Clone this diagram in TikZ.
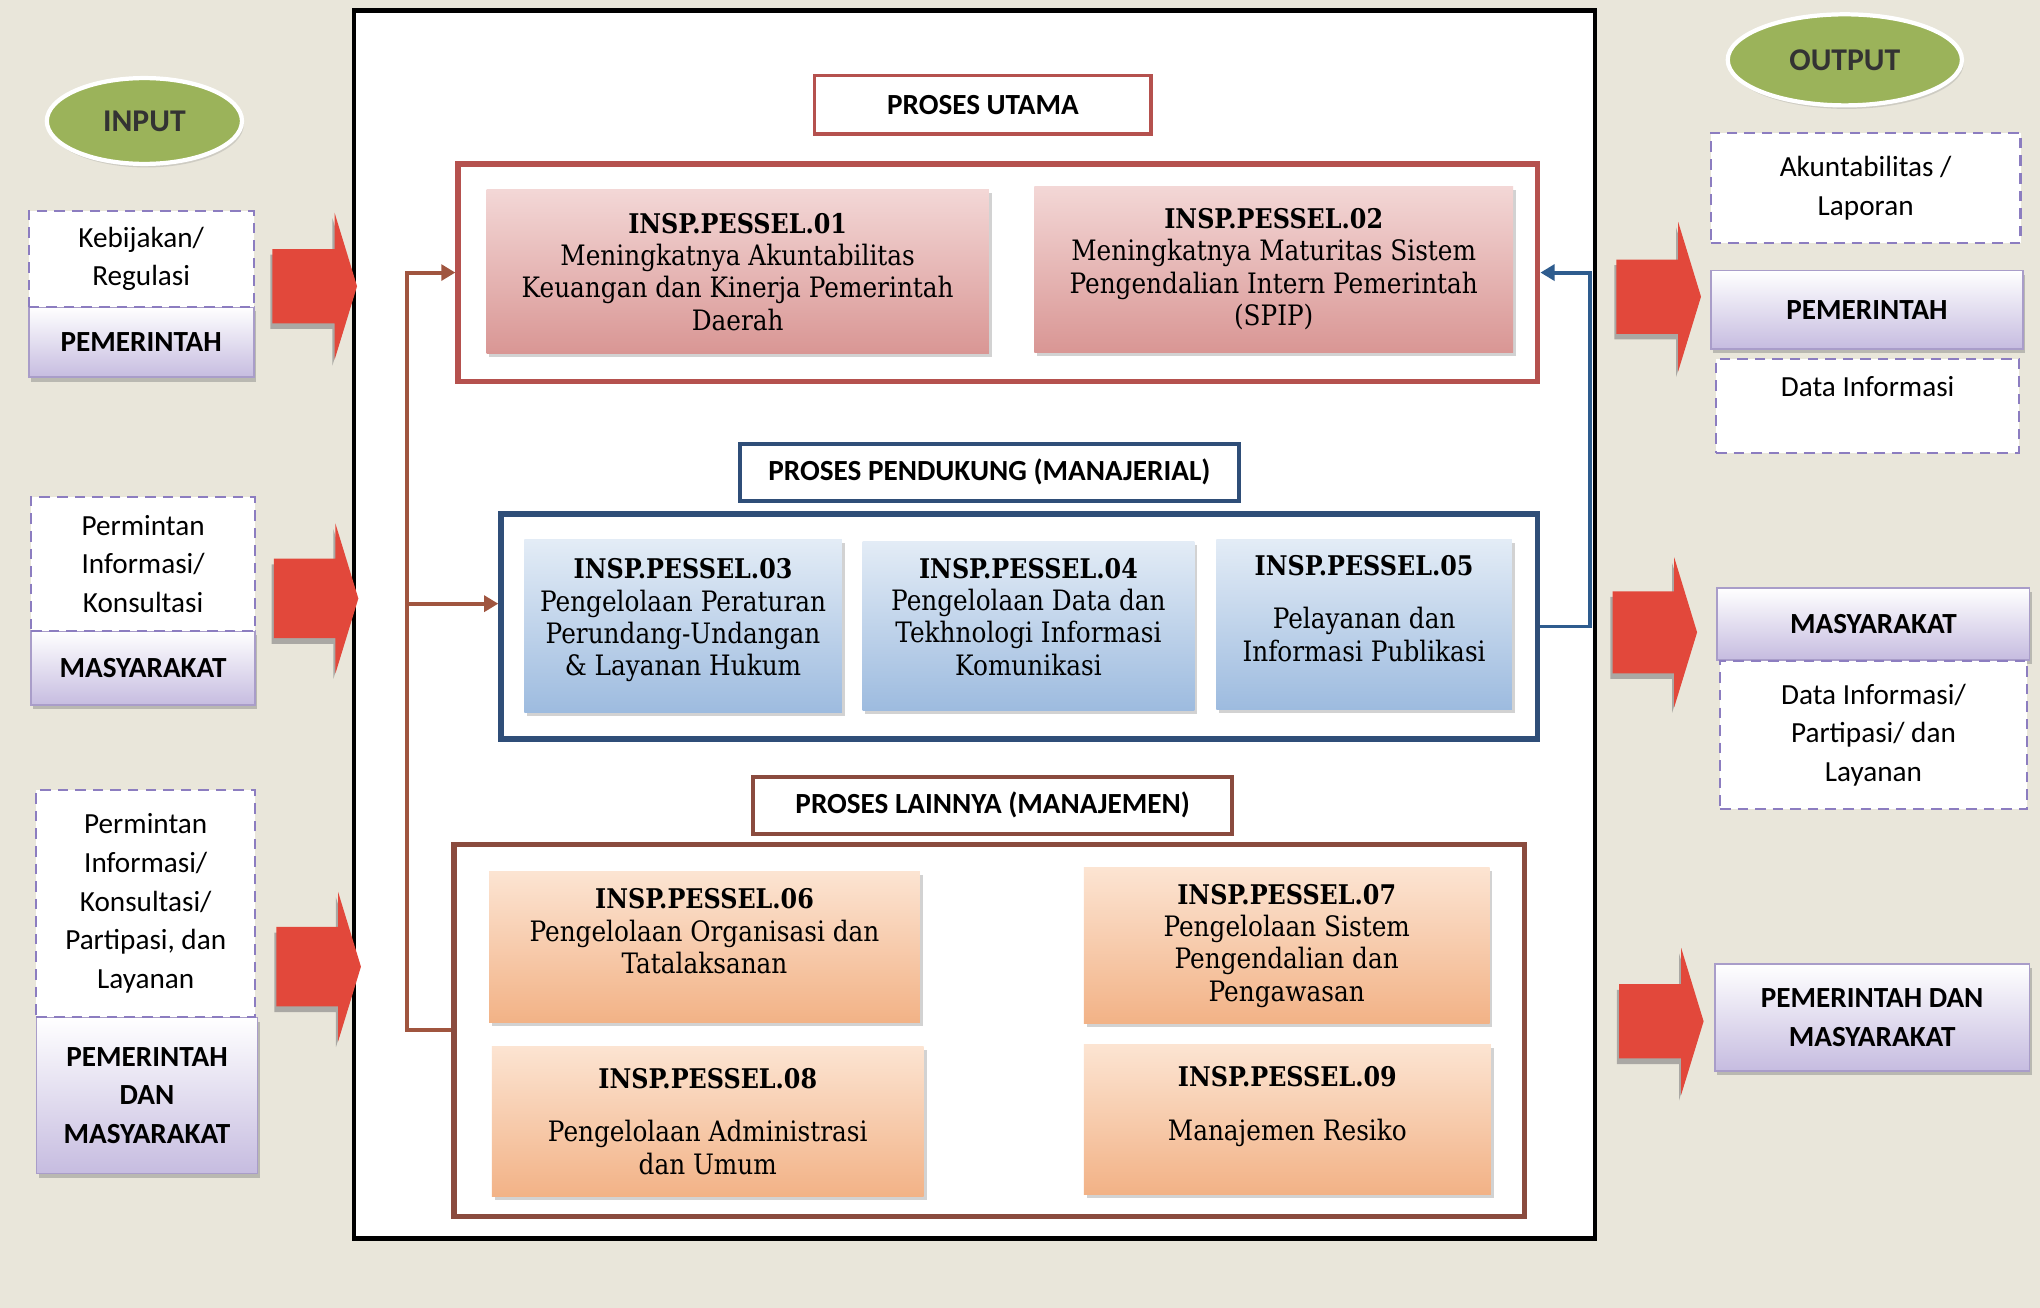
\documentclass[tikz,border=0pt]{standalone}
\usepackage{fontspec}
\setsansfont{Carlito}
\newfontfamily\procfont{DejaVu Serif}[FakeStretch=0.88]
\usetikzlibrary{shapes.geometric,shapes.arrows,shadows,arrows.meta}

\newcommand{\pxu}{0.013cm}
\newcommand{\pcode}[1]{{\bfseries\fontsize{7.7}{9.3}\selectfont #1}}

\definecolor{bgBeige}{HTML}{E9E6DA}
\definecolor{ellGreen}{HTML}{9BB35A}
\definecolor{arrRed}{HTML}{E2483B}
\definecolor{dashPurple}{HTML}{8C7DC0}
\definecolor{labLav}{HTML}{C6BCE0}
\definecolor{lavLine}{HTML}{A99DC9}
\definecolor{redBorder}{HTML}{B5514E}
\definecolor{pinkTop}{HTML}{F3D7D6}
\definecolor{pinkBot}{HTML}{D99694}
\definecolor{blueBorder}{HTML}{2F4E78}
\definecolor{blueTop}{HTML}{E3ECF6}
\definecolor{blueBot}{HTML}{9DBBDF}
\definecolor{brownBorder}{HTML}{8A4B3E}
\definecolor{orTop}{HTML}{FCE4D2}
\definecolor{orBot}{HTML}{F2B286}
\definecolor{busBrown}{HTML}{A0553F}
\definecolor{busBlue}{HTML}{2E5C8E}

\tikzset{
  ioEll/.style={ellipse, fill=ellGreen, draw=white, line width=1.2pt, inner sep=0pt,
    font=\sffamily\bfseries\fontsize{9}{10}\selectfont, text=black!80,
    drop shadow={opacity=0.25, shadow xshift=0.5pt, shadow yshift=-1pt}},
  inBox/.style={draw=dashPurple, dash pattern=on 3pt off 2pt, line width=0.6pt, fill=white,
    align=center, inner sep=0pt, font=\sffamily\fontsize{8.3}{11}\selectfont},
  whoBox/.style={draw=lavLine, line width=0.5pt, top color=white, bottom color=labLav,
    align=center, inner sep=0pt, font=\sffamily\bfseries\fontsize{8.3}{11}\selectfont,
    drop shadow={opacity=0.45, shadow xshift=0.6pt, shadow yshift=-1.2pt}},
  bigArrow/.style={single arrow, fill=arrRed, draw=none, anchor=tip, inner xsep=0pt,
    minimum height=65*\pxu, single arrow tip angle=146, single arrow head indent=0pt,
    drop shadow={opacity=0.6, shadow xshift=-0.6pt, shadow yshift=-1.6pt}},
  titleBox/.style={fill=white, line width=1.1pt, inner sep=0pt,
    font=\sffamily\bfseries\fontsize{8.3}{10}\selectfont},
  groupBox/.style={fill=white, line width=1.5pt, inner sep=0pt},
  procBox/.style={inner sep=0pt, align=center, font=\procfont\fontsize{8}{9.2}\selectfont,
    drop shadow={opacity=0.35, shadow xshift=0.8pt, shadow yshift=-1pt}},
  redProc/.style={procBox, top color=pinkTop, bottom color=pinkBot},
  blueProc/.style={procBox, top color=blueTop, bottom color=blueBot},
  orProc/.style={procBox, top color=orTop, bottom color=orBot},
  busLine/.style={draw=busBrown, line width=1.1pt},
  feedLine/.style={draw=busBlue, line width=1.1pt}
}

\begin{document}
\begin{tikzpicture}[x=0.013cm, y=-0.013cm]
    % Background
    \fill[bgBeige] (0,0) rectangle (1568,1005);
    \useasboundingbox (0,0) rectangle (1568,1005);

    % Main frame
    \node[draw=black, line width=1.3pt, fill=white, inner sep=0pt,
      minimum width=954*\pxu, minimum height=944*\pxu] (mainFrame) at (749,480) {};

    % Input side
    \node[ioEll, minimum width=150*\pxu, minimum height=66*\pxu] (inputEll) at (111,93) {INPUT};

    \node[whoBox, minimum width=173*\pxu, minimum height=54*\pxu] (inLab1) at (108.5,263) {PEMERINTAH};
    \node[inBox, minimum width=173*\pxu, minimum height=74*\pxu] (inBox1) at (108.5,199) {Kebijakan/\\Regulasi};

    \node[whoBox, minimum width=172*\pxu, minimum height=57*\pxu] (inLab2) at (110,513.5) {MASYARAKAT};
    \node[inBox, minimum width=172*\pxu, minimum height=103*\pxu] (inBox2) at (110,433.5) {Permintan\\Informasi/\\Konsultasi};

    \node[whoBox, minimum width=170*\pxu, minimum height=120*\pxu] (inLab3) at (113,842) {PEMERINTAH\\DAN\\MASYARAKAT};
    \node[inBox, minimum width=168*\pxu, minimum height=175*\pxu] (inBox3) at (112,694.5) {Permintan\\Informasi/\\Konsultasi/\\Partipasi, dan\\Layanan};

    \node[bigArrow, inner ysep=28*\pxu, single arrow head extend=28*\pxu] (inArr1) at (275,220) {};
    \node[bigArrow, inner ysep=30*\pxu, single arrow head extend=27*\pxu] (inArr2) at (276,460) {};
    \node[bigArrow, inner ysep=30*\pxu, single arrow head extend=27*\pxu] (inArr3) at (278,743) {};

    % Proses utama
    \node[titleBox, draw=redBorder, minimum width=259*\pxu, minimum height=45*\pxu] (utamaTitle) at (755.5,80.5) {PROSES UTAMA};
    \node[groupBox, draw=redBorder, minimum width=830*\pxu, minimum height=167*\pxu] (utamaBox) at (767,209.5) {};
    \node[redProc, minimum width=386*\pxu, minimum height=126*\pxu] (pessel01) at (567,209)
      {\pcode{INSP.PESSEL.01}\\Meningkatnya Akuntabilitas\\Keuangan dan Kinerja Pemerintah\\Daerah};
    \node[redProc, minimum width=368*\pxu, minimum height=128*\pxu] (pessel02) at (979,207)
      {\pcode{INSP.PESSEL.02}\\Meningkatnya Maturitas Sistem\\Pengendalian Intern Pemerintah\\(SPIP)};

    % Proses pendukung
    \node[titleBox, draw=blueBorder, minimum width=383*\pxu, minimum height=44*\pxu] (pendTitle) at (760.5,363) {PROSES PENDUKUNG (MANAJERIAL)};
    \node[groupBox, draw=blueBorder, minimum width=797*\pxu, minimum height=173*\pxu] (pendBox) at (783.5,481.5) {};
    \node[blueProc, minimum width=244*\pxu, minimum height=133*\pxu] (pessel03) at (525,481.5)
      {\pcode{INSP.PESSEL.03}\\Pengelolaan Peraturan\\Perundang-Undangan\\\& Layanan Hukum\\[-4pt] \mbox{}};
    \node[blueProc, minimum width=255*\pxu, minimum height=130*\pxu] (pessel04) at (790.5,481)
      {\pcode{INSP.PESSEL.04}\\Pengelolaan Data dan\\Tekhnologi Informasi\\Komunikasi\\[-4pt] \mbox{}};
    \node[blueProc, minimum width=227*\pxu, minimum height=130*\pxu] (pessel05) at (1048.5,480)
      {\pcode{INSP.PESSEL.05}\\[6pt]Pelayanan dan\\Informasi Publikasi\\ \mbox{}};

    % Proses lainnya
    \node[titleBox, draw=brownBorder, minimum width=368*\pxu, minimum height=44*\pxu] (lainTitle) at (763,619) {PROSES LAINNYA (MANAJEMEN)};
    \node[groupBox, draw=brownBorder, minimum width=823*\pxu, minimum height=286*\pxu] (lainBox) at (760.5,792) {};
    \node[orProc, minimum width=331*\pxu, minimum height=116*\pxu] (pessel06) at (541.5,728)
      {\pcode{INSP.PESSEL.06}\\Pengelolaan Organisasi dan\\Tatalaksanan\\ \mbox{}};
    \node[orProc, minimum width=312*\pxu, minimum height=120*\pxu] (pessel07) at (989,727)
      {\pcode{INSP.PESSEL.07}\\Pengelolaan Sistem\\Pengendalian dan\\Pengawasan};
    \node[orProc, minimum width=332*\pxu, minimum height=116*\pxu] (pessel08) at (544,862)
      {\pcode{INSP.PESSEL.08}\\[6pt]Pengelolaan Administrasi\\dan Umum};
    \node[orProc, minimum width=313*\pxu, minimum height=115*\pxu] (pessel09) at (989.5,860.5)
      {\pcode{INSP.PESSEL.09}\\[6pt]Manajemen Resiko\\ \mbox{}};

    % Connectors
    \coordinate (busX) at (313,0);
    \coordinate (busMid) at (313,464);
    \draw[busLine, -{Triangle[length=4pt, width=4.5pt]}] (lainBox.west) -- (lainBox.west -| busX) |- (utamaBox.west);
    \draw[busLine, -{Triangle[length=4pt, width=4.5pt]}] (busMid) -- (busMid -| pendBox.west);
    \draw[feedLine, -{Triangle[length=4pt, width=4.5pt]}] (pendBox.east) -- ++(38,0) |- (utamaBox.east);

    % Output side
    \node[ioEll, minimum width=180*\pxu, minimum height=70*\pxu] (outputEll) at (1418,46) {OUTPUT};

    \node[whoBox, minimum width=240*\pxu, minimum height=60*\pxu] (outLab1) at (1435,238) {PEMERINTAH};
    \node[inBox, minimum width=238*\pxu, minimum height=85*\pxu] (outBox1) at (1434,144.5) {Akuntabilitas /\\Laporan};
    \node[inBox, minimum width=233*\pxu, minimum height=72*\pxu] (outBox2) at (1435.5,312) {Data Informasi\\ \mbox{}};

    \node[whoBox, minimum width=240*\pxu, minimum height=55*\pxu] (outLab2) at (1440,479.5) {MASYARAKAT};
    \node[inBox, minimum width=236*\pxu, minimum height=114*\pxu] (outBox3) at (1440,565) {Data Informasi/\\Partipasi/ dan\\Layanan};

    \node[whoBox, minimum width=242*\pxu, minimum height=82*\pxu] (outLab3) at (1439,782) {PEMERINTAH DAN\\MASYARAKAT};

    \node[bigArrow, inner ysep=28*\pxu, single arrow head extend=29*\pxu] (outArr1) at (1308,228) {};
    \node[bigArrow, inner ysep=31*\pxu, single arrow head extend=26*\pxu] (outArr2) at (1305,486) {};
    \node[bigArrow, inner ysep=28*\pxu, single arrow head extend=28*\pxu] (outArr3) at (1310,785) {};

\end{tikzpicture}
\end{document}
